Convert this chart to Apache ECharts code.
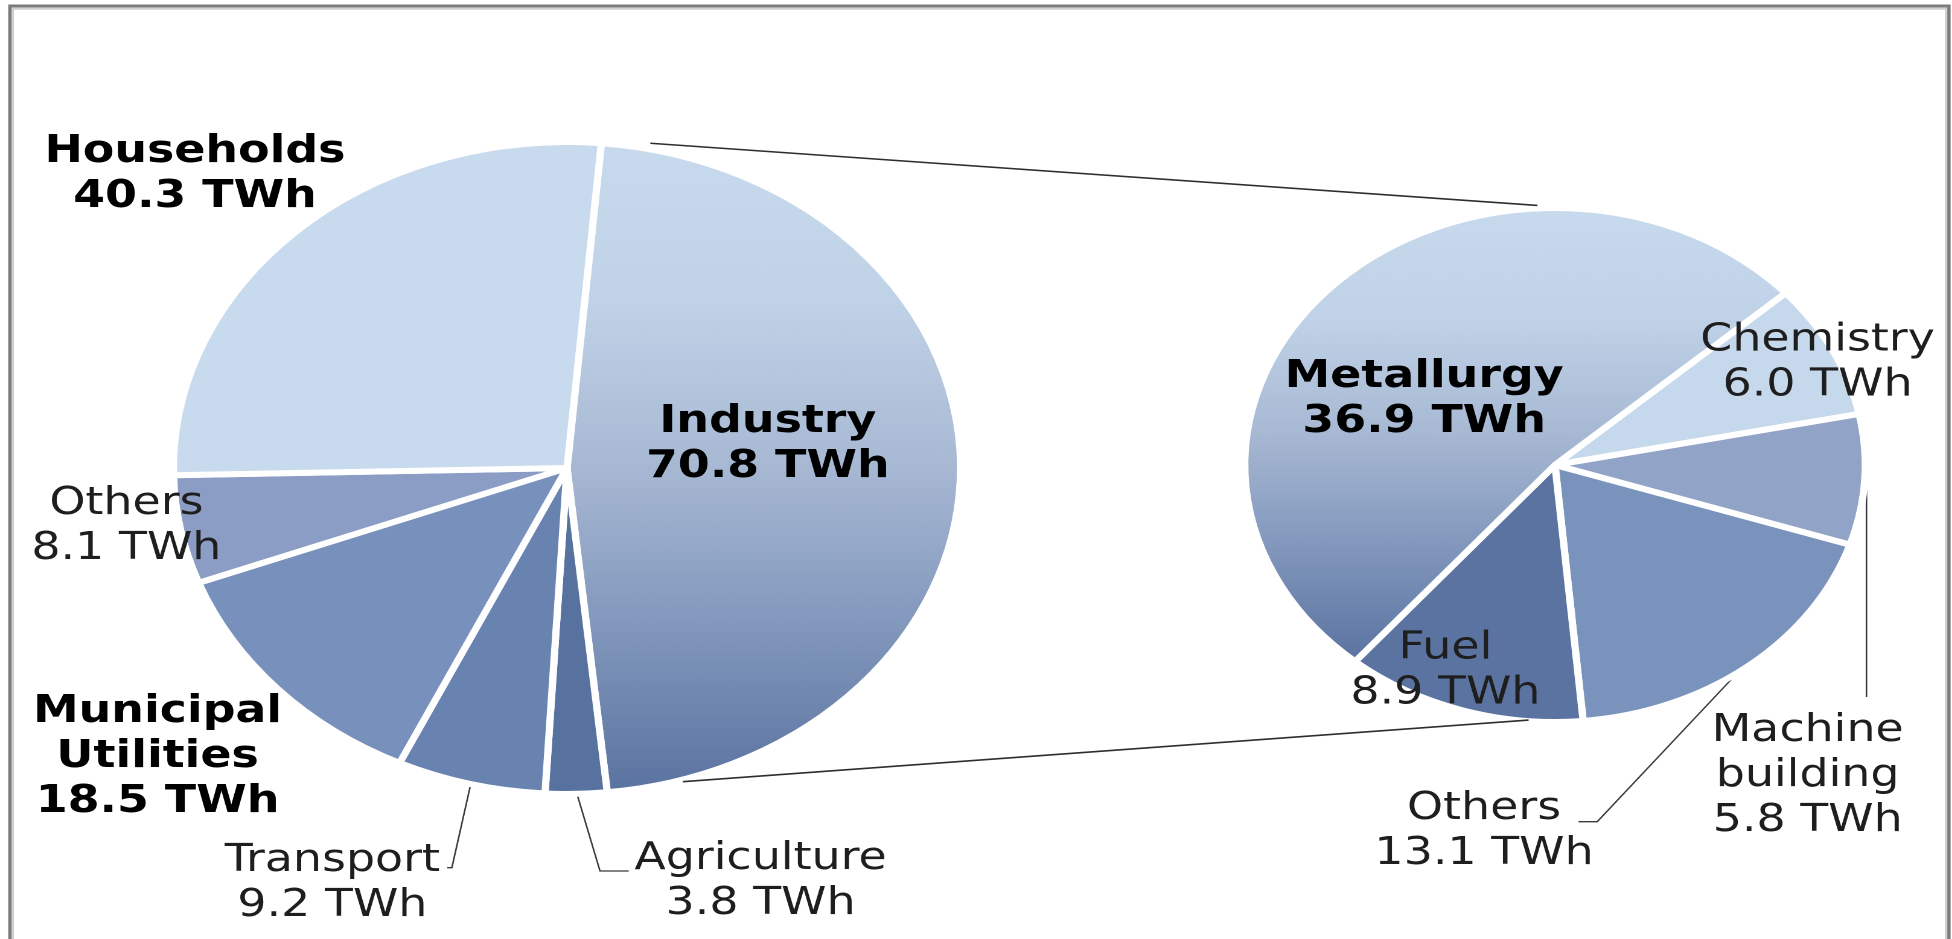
<!DOCTYPE html>
<html>
<head>
<meta charset="utf-8">
<script src="https://cdn.jsdelivr.net/npm/echarts@6/dist/echarts.min.js"></script>
<style>
html,body{margin:0;padding:0;background:#fff;overflow:hidden;width:1952px;height:939px;}
#chart{width:1617px;height:939px;transform:scaleX(1.2072);transform-origin:0 0;}
</style>
</head>
<body>
<div id="chart"></div>
<script>
// ---- data ----
const mainCategories = ['Industry', 'Agriculture', 'Transport', 'Municipal\nUtilities', 'Others', 'Households'];
const mainValues = [70.8, 3.8, 9.2, 18.5, 8.1, 40.3];
const mainBold = [true, false, false, true, false, true];

const industryCategories = ['Chemistry', 'Machine\nbuilding', 'Others', 'Fuel', 'Metallurgy'];
const industryValues = [6.0, 5.8, 13.1, 8.9, 36.9];
const industryBold = [false, false, false, false, true];

const unit = 'TWh';

// ---- layout (unstretched coordinate space; page is stretched horizontally) ----
const LEFT = { cx: 469.7, cy: 468, r: 326, start: 85 };
const RIGHT = { cx: 1288.1, cy: 465, r: 257, start: 42 };
const BW = 6;

const gradStops = [
  { offset: 0, color: '#c8daed' },
  { offset: 0.25, color: '#c0d2e7' },
  { offset: 0.5, color: '#a7b8d3' },
  { offset: 0.75, color: '#8096bb' },
  { offset: 1, color: '#5a72a0' }
];
function grad() { return new echarts.graphic.LinearGradient(0, 0, 0, 1, gradStops); }

const mainColors = [grad(), '#58729f', '#6983b1', '#7891bc', '#8b9dc4', '#c8daed'];
const industryColors = ['#c6d8ec', '#91a3c7', '#7a93bd', '#5a73a0', grad()];

const mainLabelPos = [
  { x: 636, y: 444.5 },
  { x: 630, y: 881.5, line: [[497, 871], [520.8, 871]] },
  { x: 275.3, y: 883.5, line: [[374.3, 867.7], [370.5, 867.7]] },
  { x: 130.5, y: 757 },
  { x: 104.7, y: 526.5 },
  { x: 161.5, y: 174.5 }
];
const industryLabelPos = [
  { x: 1505.6, y: 363 },
  { x: 1497.4, y: 776, line: 'down', downTo: 697 },
  { x: 1229.3, y: 831.5, line: [[1323.1, 821.7], [1307.6, 821.7]] },
  { x: 1197.3, y: 671 },
  { x: 1179.7, y: 399.5 }
];

function pointAt(geo, cwDeg, r) {
  const a = cwDeg * Math.PI / 180;
  return [geo.cx + r * Math.sin(a), geo.cy - r * Math.cos(a)];
}
function midEdge(geo, values, idx) {
  const sum = values.reduce((a, b) => a + b, 0);
  let cum = 0;
  for (let i = 0; i < idx; i++) cum += values[i];
  const cw = (90 - geo.start) + (cum + values[idx] / 2) / sum * 360;
  return pointAt(geo, cw, geo.r - BW / 2);
}

function buildData(cats, vals, bold, colors, pos) {
  return cats.map((c, i) => ({
    name: c,
    value: vals[i],
    itemStyle: { color: colors[i] },
    label: bold[i] ? { fontWeight: 'bold', color: '#000' } : { fontWeight: 'normal', color: '#1e1e1e' },
    labelLine: { show: !!pos[i].line }
  }));
}

function makeLayout(geo, vals, pos) {
  return function (p) {
    const L = pos[p.dataIndex];
    const res = { x: L.x, y: L.y, align: 'center', verticalAlign: 'middle' };
    if (L.line) {
      const s = midEdge(geo, vals, p.dataIndex);
      if (L.line === 'down') {
        const vx = geo.cx + geo.r + 1;
        res.labelLinePoints = [[vx, s[1] - 14], [vx, L.downTo], [vx, L.downTo]];
      } else {
        res.labelLinePoints = [s, L.line[0], L.line[1]];
      }
    }
    return res;
  };
}

function pieSeries(geo, cats, vals, bold, colors, pos) {
  return {
    type: 'pie',
    z: 2,
    center: [geo.cx, geo.cy],
    radius: [0, geo.r],
    startAngle: geo.start,
    clockwise: true,
    avoidLabelOverlap: false,
    silent: true,
    animation: false,
    itemStyle: { borderColor: '#ffffff', borderWidth: BW },
    label: {
      show: true,
      position: 'outside',
      fontFamily: 'DejaVu Sans',
      fontSize: 38,
      lineHeight: 45,
      formatter: (p) => p.name + '\n' + p.value.toFixed(1) + ' ' + unit
    },
    labelLine: { show: false, lineStyle: { color: '#3a3a3a', width: 1.3 } },
    labelLayout: makeLayout(geo, vals, pos),
    data: buildData(cats, vals, bold, colors, pos)
  };
}

// connector lines between the two pies (angles clockwise from top)
const topA = pointAt(LEFT, 12, LEFT.r + 6);
const topB = pointAt(RIGHT, -3.2, RIGHT.r + 3);
const botA = pointAt(LEFT, 163, LEFT.r + 2);
const botB = pointAt(RIGHT, 184.9, RIGHT.r - 1);

const chart = echarts.init(document.getElementById('chart'), null, { renderer: 'canvas', devicePixelRatio: 2 });
chart.setOption({
  backgroundColor: '#ffffff',
  animation: false,
  graphic: [
    { type: 'rect', silent: true, z: 100, shape: { x: 8.3, y: 6, width: 1606, height: 1200 }, style: { fill: null, stroke: '#7c7c7c', lineWidth: 3 } },
    { type: 'rect', silent: true, z: 100, shape: { x: 10.6, y: 8.8, width: 1601.5, height: 1200 }, style: { fill: null, stroke: '#d0d0d0', lineWidth: 2 } },
    { type: 'line', silent: true, z: 100, shape: { x1: topA[0], y1: topA[1], x2: topB[0], y2: topB[1] }, style: { stroke: '#2e2e2e', lineWidth: 1.6 } },
    { type: 'line', silent: true, z: 100, shape: { x1: botA[0], y1: botA[1], x2: botB[0], y2: botB[1] }, style: { stroke: '#2e2e2e', lineWidth: 1.6 } }
  ],
  series: [
    pieSeries(LEFT, mainCategories, mainValues, mainBold, mainColors, mainLabelPos),
    pieSeries(RIGHT, industryCategories, industryValues, industryBold, industryColors, industryLabelPos)
  ]
});
</script>
</body>
</html>
